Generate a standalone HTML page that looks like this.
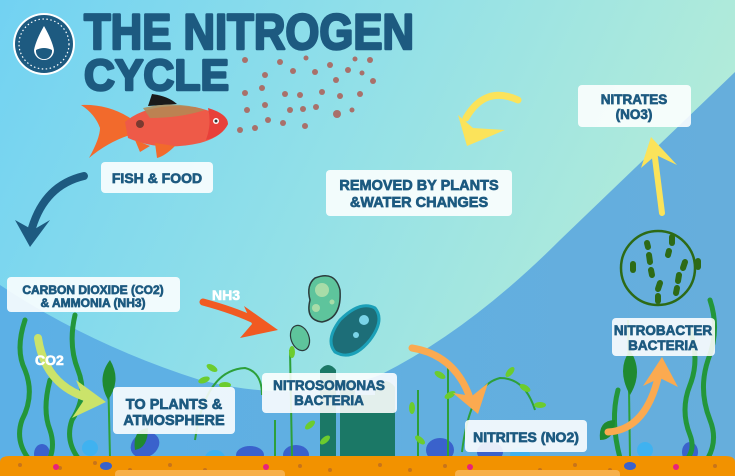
<!DOCTYPE html>
<html><head><meta charset="utf-8"><style>
html,body{margin:0;padding:0;width:735px;height:476px;overflow:hidden}
svg{display:block}
</style></head><body>
<svg width="735" height="476" viewBox="0 0 735 476" xmlns="http://www.w3.org/2000/svg">
<defs>
<linearGradient id="bg" x1="0" y1="0" x2="1" y2="0.3">
<stop offset="0" stop-color="#72d2f2"/><stop offset="0.5" stop-color="#92e0e8"/><stop offset="1" stop-color="#b4ecd8"/>
</linearGradient>
<linearGradient id="dk" x1="0" y1="0" x2="1" y2="0">
<stop offset="0" stop-color="#5cb0e6"/><stop offset="1" stop-color="#66aedc"/>
</linearGradient>
</defs>
<rect width="735" height="476" fill="url(#bg)"/>
<path d="M735,72 L560,240 Q470,330 380,375 Q300,405 200,380 Q90,345 0,285 L0,476 L735,476 Z" fill="url(#dk)"/>

<!-- logo -->
<circle cx="44" cy="44" r="31" fill="#fff"/>
<circle cx="44" cy="44" r="29" fill="#1d5a80"/>
<circle cx="44" cy="44" r="25" fill="none" stroke="#fff" stroke-width="1.2" stroke-dasharray="1.5 2.5"/>
<path d="M44,26 Q36,40 34,50 A10,10 0 0 0 54,50 Q52,40 44,26 Z" fill="#fff"/>
<path d="M36,50 Q44,46 52,50 A8,8 0 0 1 36,52 Z" fill="#1d5a80"/>

<!-- title -->
<g font-family="Liberation Sans, sans-serif" font-weight="bold" fill="#1d5a80" stroke="#1d5a80" stroke-width="2.5" stroke-linejoin="round">
<text x="84" y="49" font-size="50" textLength="330" lengthAdjust="spacingAndGlyphs">THE NITROGEN</text>
<text x="84" y="90" font-size="44" textLength="145" lengthAdjust="spacingAndGlyphs">CYCLE</text>
</g>

<!-- food dots -->
<g fill="#a9706a">
<circle cx="245" cy="60" r="3"/><circle cx="280" cy="62" r="3"/><circle cx="306" cy="58" r="2.5"/><circle cx="330" cy="65" r="3"/><circle cx="355" cy="59" r="2.5"/><circle cx="370" cy="60" r="3"/>
<circle cx="265" cy="75" r="3"/><circle cx="293" cy="71" r="3"/><circle cx="315" cy="72" r="3"/><circle cx="348" cy="70" r="3"/><circle cx="362" cy="73" r="2.5"/>
<circle cx="245" cy="93" r="3"/><circle cx="262" cy="88" r="3"/><circle cx="285" cy="94" r="3"/><circle cx="300" cy="95" r="3"/><circle cx="322" cy="92" r="3"/><circle cx="340" cy="96" r="3"/><circle cx="360" cy="94" r="3"/><circle cx="373" cy="81" r="3"/><circle cx="336" cy="80" r="3"/>
<circle cx="247" cy="110" r="3"/><circle cx="265" cy="105" r="3"/><circle cx="290" cy="110" r="3"/><circle cx="303" cy="109" r="3"/><circle cx="316" cy="107" r="3"/><circle cx="337" cy="114" r="4"/><circle cx="352" cy="110" r="2.5"/>
<circle cx="240" cy="130" r="3"/><circle cx="255" cy="128" r="3"/><circle cx="268" cy="120" r="3"/><circle cx="283" cy="123" r="3"/><circle cx="305" cy="126" r="3"/>
</g>

<!-- fish -->
<path d="M81,105 Q108,104 130,118 L130,135 Q108,142 89,158 Q100,138 100,128 Q95,114 81,105 Z" fill="#f26a2c"/>
<path d="M148,106 L152,94 Q168,96 177,104 Z" fill="#1a1a1a"/>
<path d="M125,122 Q148,102 195,107 Q222,113 228,124 Q222,137 200,143 Q160,152 128,138 Z" fill="#ee5a48"/>
<path d="M143,108 Q175,100 205,110 Q180,118 150,118 Z" fill="#b38a55" opacity="0.85"/>
<path d="M208,108 Q228,114 228,124 Q222,136 206,140 Q212,124 208,108 Z" fill="#e8403a"/>
<path d="M155,143 L175,146 Q165,156 157,158 Z" fill="#f26a2c"/>
<path d="M135,140 L150,146 L140,152 Z" fill="#f26a2c"/>
<circle cx="140" cy="124" r="4" fill="#7a3a30"/>
<circle cx="216" cy="121" r="3" fill="#fff"/><circle cx="216" cy="121" r="1.5" fill="#333"/>

<!-- dark navy arrow -->
<path d="M84,176 Q45,185 32,228" fill="none" stroke="#1d5a80" stroke-width="8" stroke-linecap="round"/>
<path d="M15,220 L30,247 L50,220 L33,230 Z" fill="#1d5a80"/>

<!-- yellow arrows -->
<path d="M518,100 Q485,85 466,118" fill="none" stroke="#fbe35a" stroke-width="7" stroke-linecap="round"/>
<path d="M458,115 L467,146 L505,130 L473,128 Z" fill="#fbe35a"/>
<path d="M662,213 L654,150" fill="none" stroke="#fbe35a" stroke-width="6" stroke-linecap="round"/>
<path d="M641,168 L651,137 L677,165 L656,155 Z" fill="#fbe35a"/>

<!-- nitrobacter circle -->
<circle cx="658" cy="268" r="37" fill="none" stroke="#2d6a16" stroke-width="2.5"/>
<g stroke="#2d6a16" stroke-width="6" stroke-linecap="round">
<line x1="647" y1="243" x2="648" y2="247"/><line x1="649" y1="255" x2="650" y2="262"/><line x1="651" y1="270" x2="652" y2="275"/>
<line x1="672" y1="237" x2="672" y2="243"/><line x1="669" y1="251" x2="668" y2="255"/>
<line x1="685" y1="262" x2="683" y2="268"/><line x1="679" y1="275" x2="678" y2="281"/><line x1="677" y1="288" x2="676" y2="293"/>
<line x1="660" y1="283" x2="658" y2="289"/><line x1="658" y1="296" x2="658" y2="301"/>
<line x1="633" y1="264" x2="633" y2="270"/><line x1="698" y1="261" x2="698" y2="267"/>
</g>

<!-- bacteria -->
<path d="M315,278 Q335,270 340,290 Q342,318 322,322 Q305,320 310,300 Q306,285 315,278 Z" fill="#5ec49c" stroke="#2b3b3b" stroke-width="1.5"/>
<circle cx="322" cy="290" r="7" fill="#a8dca8"/><circle cx="316" cy="308" r="4" fill="#a8dca8"/><circle cx="332" cy="302" r="2.5" fill="#a8dca8"/>
<ellipse cx="300" cy="338" rx="9" ry="13" transform="rotate(-20 300 338)" fill="#5ec49c" stroke="#2b3b3b" stroke-width="1.2"/>
<path d="M335,352 Q325,340 340,320 Q360,300 375,308 Q385,320 370,340 Q352,362 335,352 Z" fill="#1d6e78" stroke="#1ba0b8" stroke-width="3"/>
<circle cx="364" cy="320" r="5" fill="#7ad4e8"/><circle cx="356" cy="335" r="3" fill="#7ad4e8"/>

<!-- NH3 orange arrow -->
<path d="M203,302 Q240,312 262,324" fill="none" stroke="#f15a22" stroke-width="7" stroke-linecap="round"/>
<path d="M244,306 L278,330 L240,338 L252,324 Z" fill="#f15a22"/>

<!-- ground shapes -->
<g fill="#3a62cc">
<ellipse cx="145" cy="445" rx="15" ry="12" transform="rotate(-30 145 445)"/><ellipse cx="250" cy="455" rx="14" ry="9"/><ellipse cx="296" cy="455" rx="13" ry="10"/>
<ellipse cx="440" cy="450" rx="14" ry="12"/><ellipse cx="490" cy="452" rx="13" ry="10"/><ellipse cx="42" cy="454" rx="8" ry="10"/><ellipse cx="690" cy="452" rx="8" ry="10"/>
</g>
<g fill="#3fb2f0"><ellipse cx="90" cy="448" rx="8" ry="8"/><ellipse cx="215" cy="458" rx="10" ry="8"/><ellipse cx="520" cy="455" rx="10" ry="8"/><ellipse cx="645" cy="450" rx="8" ry="8"/></g>
<g fill="#1b7866">
<path d="M320,456 L320,370 Q328,360 336,370 L336,456 Z"/><path d="M340,456 L340,380 L355,380 L355,456 Z"/>
<path d="M375,456 L375,387 Q385,375 395,387 L395,456 Z"/><path d="M355,456 L355,395 L375,395 L375,456 Z"/>
</g>

<!-- plants -->
<g fill="none" stroke="#23963a" stroke-width="5" stroke-linecap="round">
<path d="M25,320 Q15,350 25,370 Q35,395 22,420 Q15,440 28,458"/>
<path d="M75,315 Q68,345 78,370 Q88,395 72,420 Q65,440 78,458"/>
<path d="M50,380 Q42,410 50,430 Q55,445 50,458"/>
<path d="M710,300 Q720,330 708,360 Q698,390 710,420 Q718,440 708,458"/>
<path d="M690,330 Q700,360 690,385 Q680,410 690,435 Q695,448 688,458"/>
<path d="M618,390 Q610,420 620,458"/>
</g>
<g fill="none" stroke="#2da03a" stroke-width="2">
<path d="M195,440 Q205,370 245,368 Q262,372 262,395"/>
<path d="M462,452 Q470,385 500,378 Q525,378 535,410"/>
<line x1="290" y1="350" x2="292" y2="458"/><line x1="275" y1="420" x2="275" y2="458"/>
<line x1="448" y1="360" x2="448" y2="458"/><line x1="418" y1="390" x2="418" y2="458"/>
<line x1="108" y1="370" x2="110" y2="458"/><line x1="628" y1="320" x2="630" y2="458"/>
</g>
<g fill="#6ccc2e">
<ellipse cx="212" cy="368" rx="6" ry="3" transform="rotate(30 212 368)"/><ellipse cx="204" cy="380" rx="6" ry="3" transform="rotate(-20 204 380)"/><ellipse cx="225" cy="385" rx="6" ry="3"/>
<ellipse cx="292" cy="352" rx="3" ry="6"/><ellipse cx="310" cy="425" rx="6" ry="3" transform="rotate(-40 310 425)"/><ellipse cx="325" cy="440" rx="6" ry="3" transform="rotate(-40 325 440)"/>
<ellipse cx="412" cy="408" rx="3" ry="6"/><ellipse cx="420" cy="440" rx="6" ry="3" transform="rotate(40 420 440)"/>
<ellipse cx="440" cy="375" rx="6" ry="3" transform="rotate(30 440 375)"/><ellipse cx="450" cy="395" rx="6" ry="3" transform="rotate(-30 450 395)"/>
<ellipse cx="510" cy="372" rx="6" ry="3" transform="rotate(-50 510 372)"/><ellipse cx="525" cy="388" rx="6" ry="3" transform="rotate(30 525 388)"/><ellipse cx="540" cy="405" rx="6" ry="3"/>
</g>
<g fill="#1f8a30">
<path d="M108,400 Q96,378 110,360 Q122,380 108,400 Z"/><path d="M630,395 Q616,370 630,350 Q644,372 630,395 Z"/>
<path d="M600,440 Q598,420 615,420 Q615,440 600,440 Z"/><path d="M135,450 Q132,430 148,428 Q148,448 135,450 Z"/>
</g>

<!-- CO2 arrow -->
<path d="M38,338 Q45,385 88,398" fill="none" stroke="#cbe36a" stroke-width="8" stroke-linecap="round"/>
<path d="M76,380 L106,402 L72,418 L84,400 Z" fill="#cbe36a"/>

<!-- orange arrows -->
<path d="M412,348 Q455,355 470,398" fill="none" stroke="#fbaa50" stroke-width="7" stroke-linecap="round"/>
<path d="M453,393 L478,414 L488,383 L472,396 Z" fill="#fbaa50"/>
<path d="M608,432 Q645,430 658,378" fill="none" stroke="#fbaa50" stroke-width="7" stroke-linecap="round"/>
<path d="M643,386 L662,357 L678,387 L660,378 Z" fill="#fbaa50"/>

<!-- white labels -->
<g font-family="Liberation Sans, sans-serif" font-weight="bold" fill="#fff" stroke="#fff" stroke-width="0.6">
<text x="212" y="300" font-size="14">NH3</text>
<text x="35" y="365" font-size="14">CO2</text>
</g>

<!-- ground -->
<path d="M0,476 L0,462 Q0,456 10,456 L725,456 Q735,456 735,462 L735,476 Z" fill="#f29200"/>
<g fill="#c8741a">
<circle cx="20" cy="465" r="2"/><circle cx="60" cy="468" r="2"/><circle cx="95" cy="463" r="2"/><circle cx="130" cy="470" r="2"/><circle cx="170" cy="465" r="2"/><circle cx="205" cy="470" r="2"/><circle cx="300" cy="466" r="2"/><circle cx="330" cy="470" r="2"/><circle cx="380" cy="465" r="2"/><circle cx="410" cy="470" r="2"/><circle cx="445" cy="466" r="2"/><circle cx="540" cy="470" r="2"/><circle cx="575" cy="465" r="2"/><circle cx="610" cy="470" r="2"/><circle cx="715" cy="466" r="2"/>
</g>
<rect x="115" y="470" width="170" height="10" rx="4" fill="#f7b04a"/>
<rect x="455" y="470" width="165" height="10" rx="4" fill="#f7b04a"/>
<g fill="#e8227a"><circle cx="56" cy="467" r="3"/><circle cx="266" cy="467" r="3"/><circle cx="470" cy="467" r="3"/><circle cx="676" cy="467" r="3"/></g>
<g fill="#3a62cc"><ellipse cx="106" cy="466" rx="6" ry="4"/><ellipse cx="630" cy="466" rx="6" ry="4"/></g>

<!-- labels -->
<g fill="#fff" fill-opacity="0.88">
<rect x="101" y="162" width="112" height="31" rx="4"/>
<rect x="326" y="170" width="186" height="46" rx="4"/>
<rect x="578" y="85" width="113" height="42" rx="4"/>
<rect x="7" y="277" width="173" height="35" rx="4"/>
<rect x="113" y="387" width="122" height="47" rx="4"/>
<rect x="262" y="373" width="135" height="40" rx="4"/>
<rect x="465" y="420" width="122" height="32" rx="4"/>
<rect x="612" y="318" width="103" height="38" rx="4"/>
</g>
<g font-family="Liberation Sans, sans-serif" font-weight="bold" fill="#1d5a80" stroke="#1d5a80" stroke-width="0.7" text-anchor="middle">
<text x="157" y="183" font-size="14">FISH &amp; FOOD</text>
<text x="419" y="190" font-size="14.5">REMOVED BY PLANTS</text>
<text x="419" y="207" font-size="14.5">&amp;WATER CHANGES</text>
<text x="634" y="104" font-size="13.5">NITRATES</text>
<text x="634" y="119" font-size="13.5">(NO3)</text>
<text x="93" y="294" font-size="12">CARBON DIOXIDE (CO2)</text>
<text x="93" y="307" font-size="12">&amp; AMMONIA (NH3)</text>
<text x="174" y="409" font-size="14.5">TO PLANTS &amp;</text>
<text x="174" y="425" font-size="14.5">ATMOSPHERE</text>
<text x="329" y="390" font-size="13.5">NITROSOMONAS</text>
<text x="329" y="405" font-size="13.5">BACTERIA</text>
<text x="526" y="442" font-size="14">NITRITES (NO2)</text>
<text x="663" y="335" font-size="13.5">NITROBACTER</text>
<text x="663" y="350" font-size="13.5">BACTERIA</text>
</g>
</svg>
</body></html>
